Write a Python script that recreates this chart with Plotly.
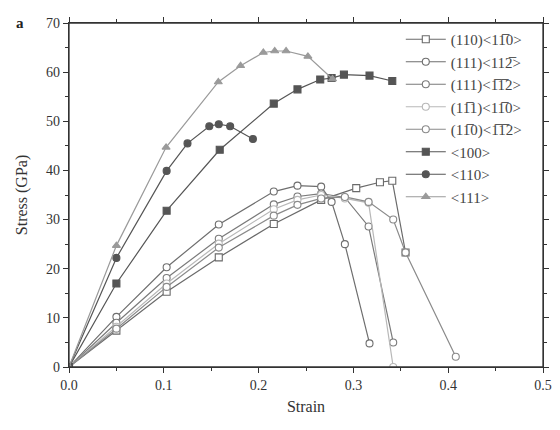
import plotly.graph_objects as go

# ---- data ----
s1_x = [0, 0.05, 0.103, 0.158, 0.216, 0.266, 0.303, 0.328, 0.341, 0.355]
s1_y = [0, 7.4, 15.3, 22.3, 29.1, 34.0, 36.4, 37.6, 37.9, 23.3]

s2_x = [0, 0.05, 0.103, 0.158, 0.216, 0.241, 0.266, 0.277, 0.291, 0.317]
s2_y = [0, 10.2, 20.3, 29.0, 35.7, 36.9, 36.7, 33.6, 25.0, 4.8]

s3_x = [0, 0.05, 0.103, 0.158, 0.216, 0.241, 0.266, 0.291, 0.316, 0.342]
s3_y = [0, 9.0, 18.1, 26.1, 33.1, 34.7, 35.3, 34.5, 28.6, 5.0]

s4_x = [0, 0.05, 0.103, 0.158, 0.216, 0.241, 0.266, 0.291, 0.316, 0.342]
s4_y = [0, 8.2, 17.0, 25.1, 32.1, 34.0, 35.0, 34.3, 33.4, 0.0]

s5_x = [0, 0.05, 0.103, 0.158, 0.216, 0.241, 0.266, 0.291, 0.316, 0.342, 0.355, 0.408]
s5_y = [0, 7.8, 16.3, 24.3, 30.8, 33.0, 34.3, 34.6, 33.6, 30.0, 23.3, 2.1]

c100_x = [0, 0.05, 0.103, 0.159, 0.216, 0.241, 0.265, 0.277, 0.29, 0.317, 0.341]
c100_y = [0, 17.0, 31.8, 44.2, 53.6, 56.5, 58.5, 58.8, 59.5, 59.3, 58.2]

c110_x = [0, 0.05, 0.103, 0.125, 0.148, 0.158, 0.170, 0.194]
c110_y = [0, 22.2, 39.9, 45.5, 49.0, 49.4, 49.0, 46.4]

c111_x = [0, 0.05, 0.1024, 0.1575, 0.181, 0.205, 0.217, 0.229, 0.252, 0.278]
c111_y = [0, 24.7, 44.7, 58.0, 61.3, 64.0, 64.3, 64.3, 63.2, 58.6]

x_ticks = [0, 0.1, 0.2, 0.3, 0.4, 0.5]
x_ticklabels = ["0.0", "0.1", "0.2", "0.3", "0.4", "0.5"]

names = ["(110)<11\u03050>", "(111)<112\u0305>", "(111)<1\u03051\u03052>",
         "(11\u03051)<11\u03050>", "(11\u03050)<1\u03051\u03052>",
         "<100>", "<110>", "<111>"]

series = [
    (s1_x, s1_y, "square-open", "#6a6a6a"),
    (s2_x, s2_y, "circle-open", "#6e6e6e"),
    (s3_x, s3_y, "circle-open", "#7a7a7a"),
    (s4_x, s4_y, "circle-open", "#b8b8b8"),
    (s5_x, s5_y, "circle-open", "#8a8a8a"),
    (c100_x, c100_y, "square", "#555555"),
    (c110_x, c110_y, "circle", "#555555"),
    (c111_x, c111_y, "triangle-up", "#9a9a9a"),
]

fig = go.Figure()
for (xs, ys, sym, c), nm in zip(series, names):
    open_ = sym.endswith("open")
    fig.add_trace(go.Scatter(
        x=xs, y=ys, name=nm, mode="lines+markers",
        line=dict(color=c, width=1.2),
        marker=dict(symbol=sym.replace("-open", ""), size=7,
                    color="white" if open_ else c,
                    line=dict(color=c, width=1.1)),
    ))

font = "Liberation Serif, Times New Roman, serif"
tickfont = dict(family=font, size=14, color="#333")

# page body has an 8px margin, so the figure is 552x422 and sits at (8,8)
fig.update_layout(
    width=552, height=422,
    margin=dict(l=61, r=13, t=8, b=63),
    paper_bgcolor="white", plot_bgcolor="white",
    font=dict(family=font, color="#333"),
    showlegend=True,
    legend=dict(x=0.70, y=1.0, xanchor="left", yanchor="top",
                bgcolor="rgba(0,0,0,0)", font=dict(family=font, size=15, color="#444"),
                itemwidth=40, tracegroupgap=0),
    xaxis=dict(range=[0, 0.5], tickvals=x_ticks, ticktext=x_ticklabels,
               showgrid=False, zeroline=False, showline=True, mirror="ticks",
               linecolor="#333", linewidth=1.3, tickcolor="#333", tickfont=tickfont,
               ticks="outside", ticklen=5,
               minor=dict(dtick=0.05, ticks="outside", ticklen=3, tickcolor="#333"),
               title=dict(text="Strain", font=dict(family=font, size=16, color="#333"), standoff=8)),
    yaxis=dict(range=[0, 70], dtick=10, showgrid=False, zeroline=False, showline=True, mirror="ticks",
               linecolor="#333", linewidth=1.3, tickcolor="#333", tickfont=tickfont,
               ticks="outside", ticklen=5,
               minor=dict(dtick=5, ticks="outside", ticklen=3, tickcolor="#333"),
               title=dict(text="Stress (GPa)", font=dict(family=font, size=16, color="#333"), standoff=14)),
)

# plot frame
fig.add_shape(type="rect", xref="paper", yref="paper", x0=0, y0=0, x1=1, y1=1,
              line=dict(color="#333", width=1.3), layer="above")

fig.add_annotation(text="<b>a</b>", xref="paper", yref="paper", x=-0.115, y=1.03,
                   xanchor="left", yanchor="top", showarrow=False,
                   font=dict(family=font, size=15, color="#222"))

fig.write_html("out.html")
